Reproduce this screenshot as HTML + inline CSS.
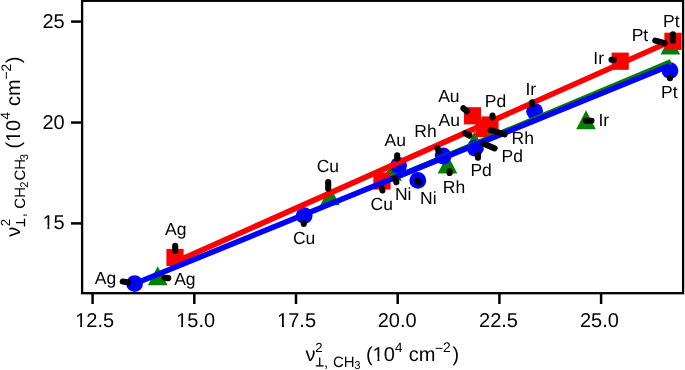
<!DOCTYPE html>
<html><head><meta charset="utf-8"><style>
html,body{margin:0;padding:0;background:#fff;}
svg{display:block;font-family:"Liberation Sans",sans-serif;font-kerning:none;text-rendering:geometricPrecision;will-change:transform;}
text{fill:#000;}
</style></head><body>
<svg width="685" height="370" viewBox="0 0 685 370">
<rect width="685" height="370" fill="#fff"/>
<defs><clipPath id="c"><rect x="83" y="1.8" width="599" height="290.3"/></clipPath></defs>
<g clip-path="url(#c)">
<polygon points="157.70,266.15 147.90,285.15 167.50,285.15" fill="#008000"/>
<polygon points="330.00,186.30 320.20,205.30 339.80,205.30" fill="#008000"/>
<polygon points="392.00,161.70 382.20,180.70 401.80,180.70" fill="#008000"/>
<polygon points="447.50,154.50 437.70,173.50 457.30,173.50" fill="#008000"/>
<polygon points="474.50,131.50 464.70,150.50 484.30,150.50" fill="#008000"/>
<polygon points="586.00,110.35 576.20,129.35 595.80,129.35" fill="#008000"/>
<polygon points="670.40,35.60 660.60,54.60 680.20,54.60" fill="#008000"/>
<rect x="166.40" y="248.90" width="17.2" height="17.2" fill="#f00"/>
<rect x="373.40" y="172.40" width="17.2" height="17.2" fill="#f00"/>
<rect x="463.90" y="107.20" width="17.2" height="17.2" fill="#f00"/>
<rect x="481.40" y="116.40" width="17.2" height="17.2" fill="#f00"/>
<rect x="475.40" y="119.90" width="17.2" height="17.2" fill="#f00"/>
<rect x="611.60" y="52.60" width="17.2" height="17.2" fill="#f00"/>
<rect x="664.40" y="32.70" width="17.2" height="17.2" fill="#f00"/>
<circle cx="134.6" cy="283.6" r="8.4" fill="#00f"/>
<circle cx="304.2" cy="215.6" r="8.4" fill="#00f"/>
<circle cx="398.6" cy="165.5" r="8.4" fill="#00f"/>
<circle cx="417.8" cy="180.4" r="8.4" fill="#00f"/>
<circle cx="443.2" cy="156.0" r="8.4" fill="#00f"/>
<circle cx="475.2" cy="148.2" r="8.4" fill="#00f"/>
<circle cx="534.6" cy="111.3" r="8.4" fill="#00f"/>
<circle cx="670" cy="70.6" r="8.4" fill="#00f"/>
<line x1="176" y1="261.63" x2="673.0" y2="40.27" stroke="#f00" stroke-width="5.6"/>
<line x1="395" y1="177.66" x2="671" y2="61.77" stroke="#008000" stroke-width="5.6"/>
<line x1="134.6" y1="283.76" x2="670" y2="65.48" stroke="#00f" stroke-width="5.6"/>
<line x1="122.7" y1="281.6" x2="128.4" y2="282.5" stroke="#000" stroke-width="6.1" stroke-linecap="round"/>
<line x1="164.6" y1="277.8" x2="168.3" y2="278.1" stroke="#000" stroke-width="6.1" stroke-linecap="round"/>
<line x1="175.2" y1="245.8" x2="175.2" y2="250.9" stroke="#000" stroke-width="6.1" stroke-linecap="round"/>
<line x1="328.2" y1="182.0" x2="328.2" y2="188.8" stroke="#000" stroke-width="6.1" stroke-linecap="round"/>
<line x1="303.75" y1="223.1" x2="303.75" y2="224.0" stroke="#000" stroke-width="6.1" stroke-linecap="round"/>
<line x1="382.0" y1="188.4" x2="382.4" y2="190.4" stroke="#000" stroke-width="6.1" stroke-linecap="round"/>
<line x1="397.2" y1="155.2" x2="397.2" y2="158.6" stroke="#000" stroke-width="6.1" stroke-linecap="round"/>
<line x1="463.4" y1="108.3" x2="466.9" y2="111.2" stroke="#000" stroke-width="6.1" stroke-linecap="round"/>
<line x1="465.2" y1="133.2" x2="469.4" y2="135.5" stroke="#000" stroke-width="6.1" stroke-linecap="round"/>
<line x1="395.0" y1="178.3" x2="396.3" y2="182.2" stroke="#000" stroke-width="6.1" stroke-linecap="round"/>
<line x1="417.2" y1="180.8" x2="419.5" y2="182.5" stroke="#000" stroke-width="6.1" stroke-linecap="round"/>
<line x1="437.5" y1="148.1" x2="438.6" y2="151.1" stroke="#000" stroke-width="6.1" stroke-linecap="round"/>
<line x1="449.6" y1="171.3" x2="449.7" y2="173.0" stroke="#000" stroke-width="6.1" stroke-linecap="round"/>
<line x1="490.8" y1="130.2" x2="504.6" y2="134.3" stroke="#000" stroke-width="6.1" stroke-linecap="round"/>
<line x1="492.5" y1="115.5" x2="492.6" y2="117.4" stroke="#000" stroke-width="6.1" stroke-linecap="round"/>
<line x1="483.6" y1="143.8" x2="494.6" y2="148.4" stroke="#000" stroke-width="6.1" stroke-linecap="round"/>
<line x1="478.0" y1="154.8" x2="478.0" y2="157.7" stroke="#000" stroke-width="6.1" stroke-linecap="round"/>
<line x1="532.2" y1="102.3" x2="532.2" y2="104.4" stroke="#000" stroke-width="6.1" stroke-linecap="round"/>
<line x1="611.5" y1="59.7" x2="613.7" y2="59.8" stroke="#000" stroke-width="6.1" stroke-linecap="round"/>
<line x1="585.9" y1="120.75" x2="591.5" y2="120.75" stroke="#000" stroke-width="6.1" stroke-linecap="round"/>
<line x1="655.3" y1="40.6" x2="664.9" y2="43.2" stroke="#000" stroke-width="6.1" stroke-linecap="round"/>
<line x1="672.9" y1="34.2" x2="672.9" y2="40.8" stroke="#000" stroke-width="6.1" stroke-linecap="round"/>
<line x1="670.0" y1="77.6" x2="670.0" y2="78.3" stroke="#000" stroke-width="6.1" stroke-linecap="round"/>
</g>
<text x="165.04" y="234.50" font-size="17.5">Ag</text>
<text x="94.84" y="284.20" font-size="17.5">Ag</text>
<text x="174.14" y="285.40" font-size="17.5">Ag</text>
<text x="316.70" y="172.10" font-size="17.5">Cu</text>
<text x="292.90" y="243.60" font-size="17.5">Cu</text>
<text x="370.50" y="210.40" font-size="17.5">Cu</text>
<text x="384.61" y="145.70" font-size="17.5">Au</text>
<text x="438.16" y="101.90" font-size="17.5">Au</text>
<text x="438.61" y="126.00" font-size="17.5">Au</text>
<text x="394.91" y="199.60" font-size="17.5">Ni</text>
<text x="420.06" y="203.50" font-size="17.5">Ni</text>
<text x="414.37" y="137.20" font-size="17.5">Rh</text>
<text x="511.52" y="144.30" font-size="17.5">Rh</text>
<text x="442.77" y="192.50" font-size="17.5">Rh</text>
<text x="484.79" y="106.80" font-size="17.5">Pd</text>
<text x="501.59" y="162.10" font-size="17.5">Pd</text>
<text x="470.44" y="175.60" font-size="17.5">Pd</text>
<text x="525.44" y="94.60" font-size="17.5">Ir</text>
<text x="593.29" y="63.60" font-size="17.5">Ir</text>
<text x="598.39" y="126.00" font-size="17.5">Ir</text>
<text x="663.03" y="26.90" font-size="17.5">Pt</text>
<text x="631.68" y="40.80" font-size="17.5">Pt</text>
<text x="660.98" y="97.80" font-size="17.5">Pt</text>
<rect x="82.1" y="0.8" width="601" height="292.4" fill="none" stroke="#000" stroke-width="2.3"/>
<line x1="92.6" y1="293" x2="92.6" y2="304" stroke="#000" stroke-width="2.5"/>
<line x1="194.3" y1="293" x2="194.3" y2="304" stroke="#000" stroke-width="2.5"/>
<line x1="296.0" y1="293" x2="296.0" y2="304" stroke="#000" stroke-width="2.5"/>
<line x1="397.7" y1="293" x2="397.7" y2="304" stroke="#000" stroke-width="2.5"/>
<line x1="499.4" y1="293" x2="499.4" y2="304" stroke="#000" stroke-width="2.5"/>
<line x1="601.1" y1="293" x2="601.1" y2="304" stroke="#000" stroke-width="2.5"/>
<text x="75.20" y="327.10" font-size="20">12.5</text><rect x="76.07" y="323.00" width="4.05" height="4.98" fill="#fff"/><rect x="82.09" y="323.00" width="3.75" height="4.98" fill="#fff"/>
<text x="176.17" y="327.10" font-size="20">15.0</text><rect x="177.04" y="323.00" width="4.05" height="4.98" fill="#fff"/><rect x="183.06" y="323.00" width="3.75" height="4.98" fill="#fff"/>
<text x="277.10" y="327.10" font-size="20">17.5</text><rect x="277.97" y="323.00" width="4.05" height="4.98" fill="#fff"/><rect x="283.99" y="323.00" width="3.75" height="4.98" fill="#fff"/>
<text x="377.72" y="327.10" font-size="20">20.0</text>
<text x="479.05" y="327.10" font-size="20">22.5</text>
<text x="579.92" y="327.10" font-size="20">25.0</text>
<line x1="71" y1="223.4" x2="82" y2="223.4" stroke="#000" stroke-width="2.5"/>
<text x="42.49" y="229.40" font-size="20">15</text><rect x="43.37" y="225.30" width="4.05" height="4.98" fill="#fff"/><rect x="49.39" y="225.30" width="3.75" height="4.98" fill="#fff"/>
<line x1="71" y1="122.55" x2="82" y2="122.55" stroke="#000" stroke-width="2.5"/>
<text x="42.44" y="128.55" font-size="20">20</text>
<line x1="71" y1="21.6" x2="82" y2="21.6" stroke="#000" stroke-width="2.5"/>
<text x="42.49" y="27.60" font-size="20">25</text>
<g transform="translate(305.6,361.3)"><text x="0.00" y="0.00" font-size="20">ν</text>
<text x="9.54" y="-9.50" font-size="13.2">2</text>
<g stroke="#000" stroke-width="1.3" fill="none"><line x1="14.1" y1="-3.9" x2="14.1" y2="4.6"/><line x1="10.2" y1="4.6" x2="18.0" y2="4.6"/></g>
<text x="18.45" y="5.30" font-size="15">,</text>
<text x="27.44" y="5.30" font-size="15">CH</text>
<text x="48.67" y="7.80" font-size="11.3">3</text>
<text x="60.46" y="0.00" font-size="20">(</text>
<text x="66.98" y="0.00" font-size="20">10</text><rect x="67.86" y="-4.10" width="4.05" height="4.98" fill="#fff"/><rect x="73.87" y="-4.10" width="3.75" height="4.98" fill="#fff"/>
<text x="89.39" y="-9.60" font-size="13.5">4</text>
<text x="103.05" y="0.00" font-size="20">cm</text>
<text x="129.51" y="-8.50" font-size="14">−</text>
<text x="137.51" y="-9.40" font-size="13.8">2</text>
<text x="146.88" y="0.00" font-size="20">)</text></g>
<g transform="translate(19.9,236.7) rotate(-90)"><text x="0.00" y="0.00" font-size="20">ν</text>
<text x="10.34" y="-9.50" font-size="13.2">2</text>
<g stroke="#000" stroke-width="1.3" fill="none"><line x1="14.1" y1="-3.9" x2="14.1" y2="4.6"/><line x1="10.2" y1="4.6" x2="18.0" y2="4.6"/></g>
<text x="19.45" y="5.30" font-size="15">,</text>
<text x="28.04" y="5.30" font-size="15">CH</text>
<text x="49.03" y="7.80" font-size="11.3">2</text>
<text x="56.14" y="5.30" font-size="15">CH</text>
<text x="76.37" y="7.80" font-size="11.3">3</text>
<text x="88.16" y="0.00" font-size="20">(</text>
<text x="94.68" y="0.00" font-size="20">10</text><rect x="95.56" y="-4.10" width="4.05" height="4.98" fill="#fff"/><rect x="101.57" y="-4.10" width="3.75" height="4.98" fill="#fff"/>
<text x="117.09" y="-9.60" font-size="13.5">4</text>
<text x="130.75" y="0.00" font-size="20">cm</text>
<text x="157.21" y="-8.50" font-size="14">−</text>
<text x="165.21" y="-9.40" font-size="13.8">2</text>
<text x="173.48" y="0.00" font-size="20">)</text></g>
</svg></body></html>
